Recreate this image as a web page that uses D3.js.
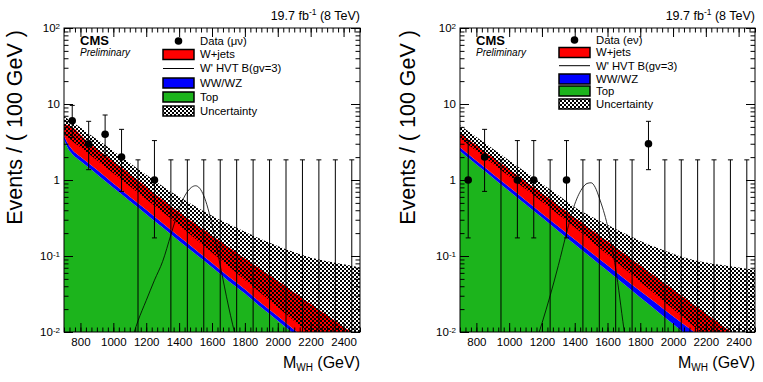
<!DOCTYPE html>
<html>
<head>
<meta charset="utf-8">
<script src="https://cdn.jsdelivr.net/npm/d3@7"></script>
<style>
body { margin: 0; background: #fff; }
text { font-family: "Liberation Sans", Arial, sans-serif; fill: #000; }
</style>
</head>
<body>
<script>
// background curves, sampled in M_WH (GeV)
var mass = [700, 725, 750, 800, 850, 900, 1000, 1100, 1200, 1300, 1400, 1500, 1600, 1700, 1800, 1900, 2000, 2100, 2200, 2300, 2400, 2500];

// muon channel
var muTop   = [3.4, 2.6, 2.2, 1.78, 1.46, 1.19, 0.79, 0.53, 0.355, 0.237, 0.158, 0.106, 0.071, 0.047, 0.032, 0.021, 0.0141, 0.0094, 0.0063, 0.0042, 0.0028, 0.0019];
var muVV    = [0.46, 0.37, 0.31, 0.25, 0.20, 0.17, 0.11, 0.074, 0.050, 0.033, 0.022, 0.015, 0.0099, 0.0066, 0.0045, 0.0029, 0.0020, 0.0013, 0.00088, 0.00059, 0.00039, 0.00027];
var muWjets = [1.64, 2.28, 2.49, 1.95, 1.43, 1.21, 0.86, 0.60, 0.405, 0.28, 0.196, 0.142, 0.105, 0.078, 0.0565, 0.042, 0.031, 0.0223, 0.0162, 0.0118, 0.0085, 0.0061];
var muUncLo = [3.98, 3.63, 3.27, 2.69, 2.21, 1.82, 1.23, 0.83, 0.56, 0.38, 0.254, 0.168, 0.111, 0.0733, 0.0484, 0.032, 0.0211, 0.014, 0.0092, 0.0061, 0.0040, 0.0027];
var muUncHi = [6.9, 6.3, 5.8, 4.9, 4.07, 3.43, 2.40, 1.68, 1.175, 0.83, 0.60, 0.447, 0.339, 0.263, 0.209, 0.166, 0.135, 0.112, 0.0955, 0.0851, 0.0776, 0.0708];

// electron channel
var eTop   = [2.40, 2.17, 1.96, 1.60, 1.31, 1.07, 0.716, 0.479, 0.320, 0.214, 0.143, 0.0955, 0.0638, 0.0427, 0.0285, 0.0191, 0.0127, 0.0085, 0.0057, 0.0038, 0.00254, 0.0017];
var eVV    = [0.29, 0.26, 0.235, 0.19, 0.16, 0.13, 0.09, 0.062, 0.043, 0.030, 0.022, 0.016, 0.0115, 0.0084, 0.0062, 0.0046, 0.0034, 0.0026, 0.0019, 0.0014, 0.0011, 0.0008];
var eWjets = [1.42, 1.33, 1.235, 1.07, 0.91, 0.79, 0.574, 0.418, 0.304, 0.219, 0.157, 0.1125, 0.0807, 0.0569, 0.0405, 0.0285, 0.0202, 0.0141, 0.0099, 0.0070, 0.00486, 0.0034];
var eUncLo = [3.55, 3.22, 2.92, 2.42, 1.99, 1.64, 1.12, 0.759, 0.516, 0.351, 0.239, 0.158, 0.105, 0.0692, 0.0457, 0.0302, 0.020, 0.0132, 0.0087, 0.0058, 0.0038, 0.0025];
var eUncHi = [5.25, 4.79, 4.40, 3.68, 3.08, 2.58, 1.81, 1.27, 0.891, 0.631, 0.437, 0.331, 0.257, 0.20, 0.158, 0.129, 0.107, 0.0912, 0.0822, 0.0759, 0.0708, 0.0661];

// W' HVT B(gv=3) signal
var sigMassMu = [1100, 1150, 1200, 1250, 1300, 1350, 1400, 1450, 1475, 1500, 1525, 1550, 1600, 1650, 1700, 1750];
var sigMu     = [0.0065, 0.014, 0.026, 0.048, 0.085, 0.19, 0.42, 0.70, 0.80, 0.84, 0.78, 0.62, 0.26, 0.075, 0.022, 0.0075];
var sigMassE  = [1150, 1200, 1250, 1300, 1350, 1400, 1450, 1475, 1500, 1525, 1550, 1600, 1650, 1700, 1750];
var sigE      = [0.006, 0.013, 0.03, 0.075, 0.2, 0.48, 0.80, 0.90, 0.92, 0.80, 0.58, 0.25, 0.068, 0.011, 0.002];

// observed events per 100 GeV bin
var binCenters = [750, 850, 950, 1050, 1150, 1250, 1350, 1450, 1550, 1650, 1750, 1850, 1950, 2050, 2150, 2250, 2350, 2450];
var dataMu = [6, 3, 4, 2, 0, 1, 0, 0, 0, 0, 0, 0, 0, 0, 0, 0, 0, 0];
var dataE  = [1, 2, 0, 1, 1, 0, 1, 0, 0, 0, 0, 3, 0, 0, 0, 0, 0, 0];
// poisson 68% intervals for n = 0..6
var poisLo = [0, 0.173, 0.708, 1.367, 2.086, 2.840, 3.620];
var poisHi = [1.841, 3.300, 4.638, 5.918, 7.163, 8.382, 9.584];

var xTicks = [800, 1000, 1200, 1400, 1600, 1800, 2000, 2200, 2400];
var yTicks = [0.01, 0.1, 1, 10, 100];
var yTickBase = ["10", "10", "1", "10", "10"];
var yTickExp  = ["-2", "-1", "", "", "2"];
var legendNames = ["W+jets", "W' HVT B(gv=3)", "WW/WZ", "Top", "Uncertainty"];

var GREEN = "#1cb41c", BLUE = "#0000ff", RED = "#ff0000";
var Y0 = 28, Y1 = 332;

var svg = d3.select("body").append("svg").attr("width", 763).attr("height", 382);
var defs = svg.append("defs");
// checker-like hatch, transparent between the dots
var pat = defs.append("pattern").attr("id", "hatch").attr("patternUnits", "userSpaceOnUse")
    .attr("width", 4).attr("height", 4);
pat.append("rect").attr("x", 0).attr("y", 0).attr("width", 2).attr("height", 2).attr("fill", "#000");
pat.append("rect").attr("x", 2).attr("y", 2).attr("width", 2).attr("height", 2).attr("fill", "#000");

var minorX = [];
for (var v = 700; v <= 2500.1; v += 200 / 6) minorX.push(v);
var minorY = [];
[0.01, 0.1, 1, 10].forEach(function(d) { for (var k = 2; k <= 9; k++) minorY.push(d * k); });

function drawPanel(p) {
    var x = d3.scaleLinear().domain([700, 2500]).range([p.x0, p.x1]);
    var y = d3.scaleLog().domain([0.01, 100]).range([Y1, Y0]);
    var yc = function(v) { return y(Math.max(v, 1e-4)); };

    defs.append("clipPath").attr("id", "clip" + p.id)
        .append("rect").attr("x", p.x0).attr("y", Y0).attr("width", p.x1 - p.x0).attr("height", Y1 - Y0);
    var plot = svg.append("g").attr("clip-path", "url(#clip" + p.id + ")");

    var rows = mass.map(function(m, i) {
        var a = p.top[i], b = a + p.vv[i], c = b + p.wjets[i];
        return {m: m, top: a, vv: b, tot: c, lo: p.uncLo[i], hi: p.uncHi[i]};
    });
    function band(lo, hi) {
        return d3.area().curve(d3.curveMonotoneX)
            .x(function(d) { return x(d.m); })
            .y0(function(d) { return yc(lo(d)); })
            .y1(function(d) { return yc(hi(d)); });
    }
    plot.append("path").datum(rows).attr("fill", GREEN).attr("d", band(function() { return 1e-4; }, function(d) { return d.top; }));
    plot.append("path").datum(rows).attr("fill", BLUE).attr("d", band(function(d) { return d.top; }, function(d) { return d.vv; }));
    plot.append("path").datum(rows).attr("fill", RED).attr("d", band(function(d) { return d.vv; }, function(d) { return d.tot; }));
    plot.append("path").datum(rows).attr("fill", "url(#hatch)").attr("d", band(function(d) { return d.lo; }, function(d) { return d.hi; }));

    // signal
    var sig = p.sigMass.map(function(m, i) { return [m, p.sig[i]]; });
    plot.append("path").datum(sig).attr("fill", "none").attr("stroke", "#000").attr("stroke-width", 0.8)
        .attr("d", d3.line().curve(d3.curveMonotoneX)
            .x(function(d) { return x(d[0]); }).y(function(d) { return yc(d[1]); }));

    // data
    var pts = binCenters.map(function(m, i) { return {m: m, n: p.data[i]}; });
    var eb = plot.append("g").selectAll("g").data(pts).enter().append("g");
    eb.append("line")
        .attr("x1", function(d) { return x(d.m); }).attr("x2", function(d) { return x(d.m); })
        .attr("y1", function(d) { return yc(Math.max(poisLo[d.n], 0.01)); })
        .attr("y2", function(d) { return y(poisHi[d.n]); })
        .attr("stroke", "#000").attr("stroke-width", 1);
    eb.append("line")
        .attr("x1", function(d) { return x(d.m) - 2.5; }).attr("x2", function(d) { return x(d.m) + 2.5; })
        .attr("y1", function(d) { return y(poisHi[d.n]); }).attr("y2", function(d) { return y(poisHi[d.n]); })
        .attr("stroke", "#000").attr("stroke-width", 1);
    eb.filter(function(d) { return d.n > 0; }).append("line")
        .attr("x1", function(d) { return x(d.m) - 2.5; }).attr("x2", function(d) { return x(d.m) + 2.5; })
        .attr("y1", function(d) { return y(poisLo[d.n]); }).attr("y2", function(d) { return y(poisLo[d.n]); })
        .attr("stroke", "#000").attr("stroke-width", 1);
    eb.filter(function(d) { return d.n > 0; }).append("circle")
        .attr("cx", function(d) { return x(d.m); }).attr("cy", function(d) { return y(d.n); })
        .attr("r", 3.8).attr("fill", "#000");

    // axes, ticks pointing inwards
    function ax(axis, tx, ty) {
        var g = svg.append("g").attr("transform", "translate(" + tx + "," + ty + ")").call(axis);
        g.select(".domain").remove();
        g.selectAll("line").attr("stroke", "#000");
        g.attr("font-size", null).attr("font-family", null);
        return g;
    }
    var xb = ax(d3.axisBottom(x).tickValues(xTicks).tickSize(-9).tickPadding(6).tickFormat(d3.format("d")), 0, Y1);
    xb.selectAll("text").style("font-size", "11.5px");
    ax(d3.axisBottom(x).tickValues(minorX).tickSize(-4.5).tickFormat(""), 0, Y1);
    ax(d3.axisTop(x).tickValues(xTicks).tickSize(-9).tickFormat(""), 0, Y0);
    ax(d3.axisTop(x).tickValues(minorX).tickSize(-4.5).tickFormat(""), 0, Y0);

    var yl = ax(d3.axisLeft(y).tickValues(yTicks).tickSize(-9).tickPadding(4).tickFormat(""), p.x0, 0);
    yl.selectAll("text").each(function(d, i) {
        var t = d3.select(this).style("font-size", "11.5px");
        t.append("tspan").text(yTickBase[i]);
        if (yTickExp[i]) t.append("tspan").attr("dy", "-0.45em").style("font-size", "8px").text(yTickExp[i]);
    });
    ax(d3.axisLeft(y).tickValues(minorY).tickSize(-4.5).tickFormat(""), p.x0, 0);
    ax(d3.axisRight(y).tickValues(yTicks).tickSize(-9).tickFormat(""), p.x1, 0);
    ax(d3.axisRight(y).tickValues(minorY).tickSize(-4.5).tickFormat(""), p.x1, 0);

    svg.append("rect").attr("x", p.x0).attr("y", Y0).attr("width", p.x1 - p.x0).attr("height", Y1 - Y0)
        .attr("fill", "none").attr("stroke", "#000").attr("stroke-width", 1);

    // titles
    var xt = svg.append("text").attr("x", p.x1).attr("y", 368).attr("text-anchor", "end").style("font-size", "16px");
    xt.append("tspan").text("M");
    xt.append("tspan").attr("dy", 3).style("font-size", "10px").text("WH");
    xt.append("tspan").attr("dy", -3).text(" (GeV)");
    svg.append("text").attr("transform", "translate(" + p.ytx + "," + (Y0 + 2) + ") rotate(-90)")
        .attr("text-anchor", "end").style("font-size", "21.5px").text("Events / ( 100 GeV )");

    var lumi = svg.append("text").attr("x", p.x1).attr("y", 20).attr("text-anchor", "end").style("font-size", "12.5px");
    lumi.append("tspan").text("19.7 fb");
    lumi.append("tspan").attr("dy", -5).style("font-size", "8.5px").text("-1");
    lumi.append("tspan").attr("dy", 5).text(" (8 TeV)");

    svg.append("text").attr("x", p.x0 + 16).attr("y", 45).style("font-size", "13px").style("font-weight", "bold").text("CMS");
    svg.append("text").attr("x", p.x0 + 16).attr("y", 55.5).style("font-size", "10px").style("font-style", "italic").text("Preliminary");

    // legend
    var lg = svg.append("g");
    var r = p.legRows;
    lg.append("circle").attr("cx", p.legX + 15.5).attr("cy", r[0]).attr("r", 3.8).attr("fill", "#000");
    lg.append("text").attr("x", p.legX + 37).attr("y", r[0]).attr("dy", "0.35em").style("font-size", "11.3px").text(p.dataLabel);
    var fills = [RED, null, BLUE, GREEN, "url(#hatch)"];
    legendNames.forEach(function(name, i) {
        var cy = r[i + 1];
        if (fills[i]) {
            lg.append("rect").attr("x", p.legX).attr("y", cy - 5).attr("width", 31).attr("height", 10)
                .attr("fill", fills[i]).attr("stroke", "#000").attr("stroke-width", 1.5);
        } else {
            lg.append("line").attr("x1", p.legX).attr("x2", p.legX + 31).attr("y1", cy).attr("y2", cy)
                .attr("stroke", "#000").attr("stroke-width", 1);
        }
        lg.append("text").attr("x", p.legX + 37).attr("y", cy).attr("dy", "0.35em").style("font-size", "11.3px").text(name);
    });
}

drawPanel({id: 0, x0: 64, x1: 360, ytx: 22, legX: 163, legRows: [41, 54.5, 68.5, 83, 97, 111],
    top: muTop, vv: muVV, wjets: muWjets, uncLo: muUncLo, uncHi: muUncHi,
    sigMass: sigMassMu, sig: sigMu, data: dataMu, dataLabel: "Data (\u03bc\u03bd)"});
drawPanel({id: 1, x0: 460, x1: 755, ytx: 415, legX: 559, legRows: [40, 52.5, 65.7, 79, 91, 104],
    top: eTop, vv: eVV, wjets: eWjets, uncLo: eUncLo, uncHi: eUncHi,
    sigMass: sigMassE, sig: sigE, data: dataE, dataLabel: "Data (e\u03bd)"});
</script>
</body>
</html>
